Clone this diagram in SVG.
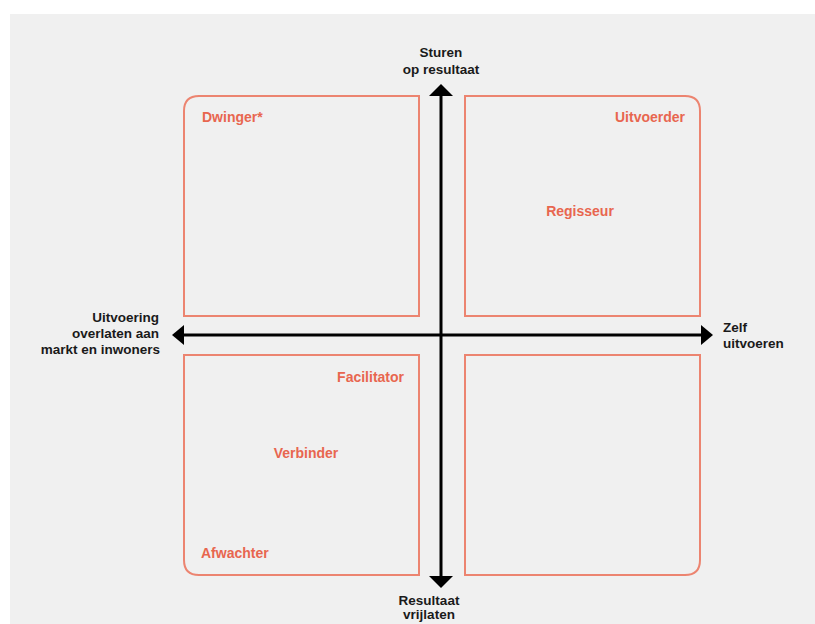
<svg xmlns="http://www.w3.org/2000/svg" width="815" height="624" viewBox="0 0 815 624">
<defs>
<style>
.bg{fill:#f0f0f0}
.box{fill:none;stroke:#ec8470;stroke-width:2}
.axis{stroke:#000;stroke-width:3;fill:none}
.head{fill:#000}
.role{font-family:"Liberation Sans",Arial,sans-serif;font-weight:bold;font-size:14px;fill:#e8664f}
.lbl{font-family:"Liberation Sans",Arial,sans-serif;font-weight:bold;font-size:13.5px;fill:#1a1a1a}
</style>
</defs>
<rect width="815" height="624" fill="#ffffff"/>
<rect class="bg" x="10" y="14" width="805" height="610"/>
<g id="q-top-left">
<path class="box" d="M184,316 V111 Q184,96 199,96 H419 V316 Z"/>
<text class="role" x="202" y="122">Dwinger*</text>
</g>
<g id="q-top-right">
<path class="box" d="M465,96 H685 Q700,96 700,111 V316 H465 Z"/>
<text class="role" x="685" y="122" text-anchor="end">Uitvoerder</text>
<text class="role" x="580" y="216" text-anchor="middle">Regisseur</text>
</g>
<g id="q-bottom-left">
<path class="box" d="M184,355 H419 V575 H199 Q184,575 184,560 Z"/>
<text class="role" x="404" y="382" text-anchor="end">Facilitator</text>
<text class="role" x="306" y="458" text-anchor="middle">Verbinder</text>
<text class="role" x="201" y="558">Afwachter</text>
</g>
<g id="q-bottom-right">
<path class="box" d="M465,355 H700 V560 Q700,575 685,575 H465 Z"/>
</g>
<g id="connectors">
<line class="axis" x1="441" y1="95" x2="441" y2="577"/>
<polygon class="head" points="441,84 429,96 453,96"/>
<polygon class="head" points="441,588 429,576 453,576"/>
<line class="axis" x1="183" y1="335" x2="702" y2="335"/>
<polygon class="head" points="172,335 184,325 184,345"/>
<polygon class="head" points="713,335 701,325 701,345"/>
</g>
<g id="axis-labels">
<text class="lbl" x="441" y="57" text-anchor="middle">Sturen</text>
<text class="lbl" x="441" y="74" text-anchor="middle">op resultaat</text>
<text class="lbl" x="159" y="322" text-anchor="end">Uitvoering</text>
<text class="lbl" x="159" y="338" text-anchor="end">overlaten aan</text>
<text class="lbl" x="160" y="354" text-anchor="end">markt en inwoners</text>
<text class="lbl" x="723" y="332">Zelf</text>
<text class="lbl" x="723" y="348">uitvoeren</text>
<text class="lbl" x="429" y="605" text-anchor="middle">Resultaat</text>
<text class="lbl" x="429" y="619" text-anchor="middle">vrijlaten</text>
</g>
</svg>
